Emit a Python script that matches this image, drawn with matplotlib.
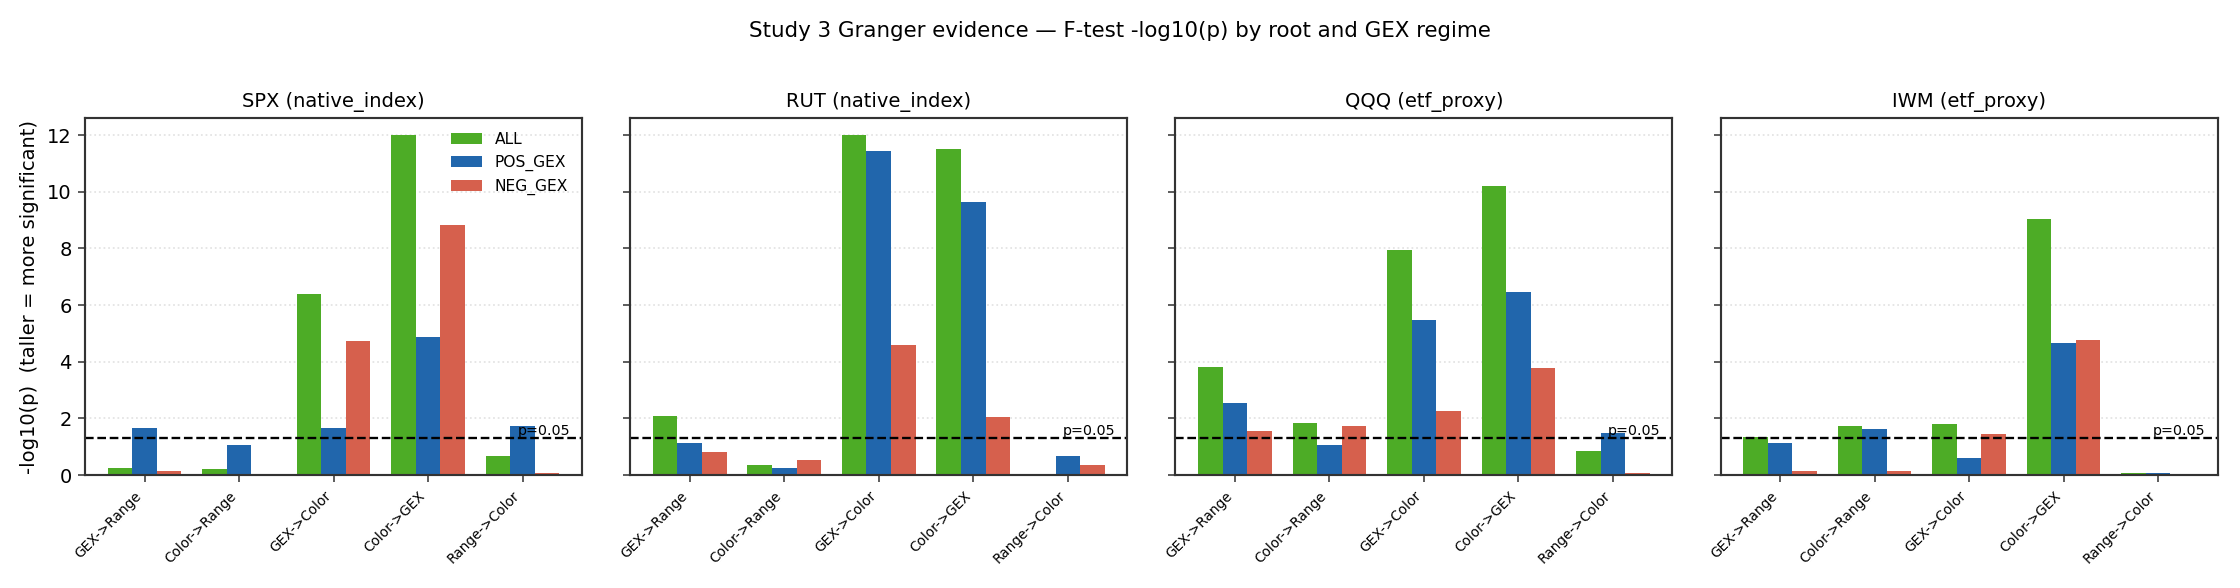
import numpy as np
import matplotlib
matplotlib.use("Agg")
import matplotlib.pyplot as plt

panels = ["SPX (native_index)", "RUT (native_index)", "QQQ (etf_proxy)", "IWM (etf_proxy)"]
tests = ["GEX->Range", "Color->Range", "GEX->Color", "Color->GEX", "Range->Color"]
regimes = ["ALL", "POS_GEX", "NEG_GEX"]
colors = ["#4dac26", "#2166ac", "#d6604d"]

spx_all = [0.24, 0.20, 6.38, 12.0, 0.66]
spx_pos = [1.67, 1.08, 1.67, 4.86, 1.75]
spx_neg = [0.16, 0.02, 4.72, 8.82, 0.06]

rut_all = [2.07, 0.34, 12.0, 11.51, 0.0]
rut_pos = [1.15, 0.24, 11.44, 9.63, 0.66]
rut_neg = [0.80, 0.52, 4.58, 2.04, 0.34]

qqq_all = [3.80, 1.83, 7.94, 10.20, 0.84]
qqq_pos = [2.53, 1.08, 5.47, 6.45, 1.47]
qqq_neg = [1.54, 1.75, 2.25, 3.77, 0.06]

iwm_all = [1.33, 1.75, 1.79, 9.03, 0.09]
iwm_pos = [1.15, 1.61, 0.59, 4.65, 0.06]
iwm_neg = [0.13, 0.13, 1.44, 4.76, 0.02]

data = [
    [spx_all, spx_pos, spx_neg],
    [rut_all, rut_pos, rut_neg],
    [qqq_all, qqq_pos, qqq_neg],
    [iwm_all, iwm_pos, iwm_neg],
]

threshold = -np.log10(0.05)

fig, axes = plt.subplots(1, 4, figsize=(16, 4.2), dpi=140, sharey=True)
fig.subplots_adjust(left=0.038, right=0.99, bottom=0.192, top=0.799, wspace=0.097)

x = np.arange(len(tests))
w = 0.26
for i, ax in enumerate(axes):
    for j, (reg, col) in enumerate(zip(regimes, colors)):
        ax.bar(x + (j - 1) * w, data[i][j], width=w, color=col, label=reg)
    ax.axhline(threshold, color="black", linestyle="--", linewidth=1.2)
    ax.text(len(tests) - 0.5, threshold, "p=0.05", ha="right", va="bottom", fontsize=7.3)
    ax.set_title(panels[i], fontsize=10)
    ax.set_xticks(x)
    ax.set_xticklabels(tests, rotation=45, ha="right", fontsize=7)
    ax.grid(axis="y", linestyle=":", color="#e3e3e3", linewidth=0.9)
    ax.set_axisbelow(True)
    for s in ax.spines.values():
        s.set_color("#333333")
        s.set_linewidth(1.1)
    ax.tick_params(colors="#333333", labelcolor="black")
axes[0].set_ylabel("-log10(p)  (taller = more significant)", fontsize=10)
axes[0].set_ylim(0, 12.6)
axes[0].legend(loc="upper right", frameon=False, fontsize=8)
fig.suptitle("Study 3 Granger evidence \u2014 F-test -log10(p) by root and GEX regime", fontsize=11, y=0.965)
fig.savefig("out.png", dpi=140)
